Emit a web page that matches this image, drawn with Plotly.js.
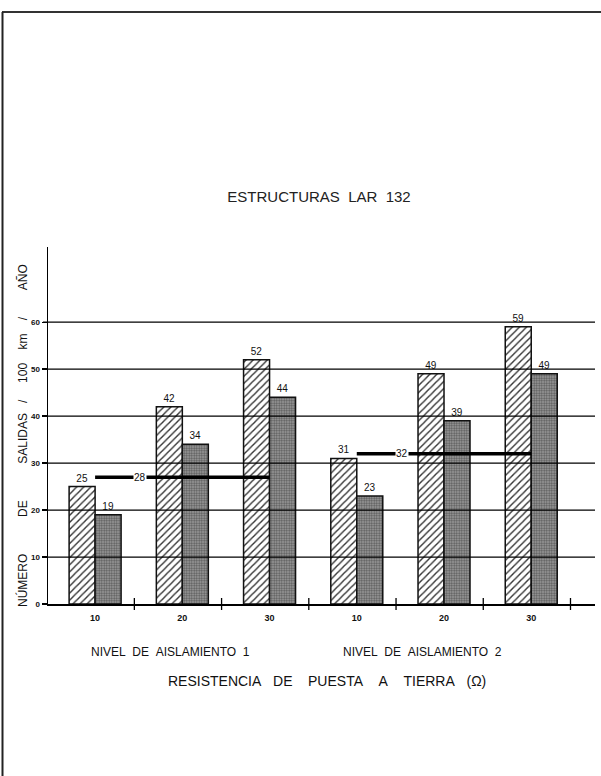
<!DOCTYPE html>
<html>
<head>
<meta charset="utf-8">
<script src="https://cdn.plot.ly/plotly-3.0.1.min.js"></script>
<style>html,body{margin:0;padding:0;background:#fff;}#chart{width:601px;height:776px;}</style>
</head>
<body>
<div id="chart"></div>
<script>
// ---- data ----
const resistances = ['10', '20', '30', '10', '20', '30'];
const hatchedValues = [25, 42, 52, 31, 49, 59];
const darkValues = [19, 34, 44, 23, 39, 49];
const levelNames = ['NIVEL DE AISLAMIENTO 1', 'NIVEL DE AISLAMIENTO 2'];
const avgFrom = [0, 3];
const avgTo = [2, 5];
const avgValues = [27, 32];
const avgLabels = ['28', '32'];
const yTickVals = [0, 10, 20, 30, 40, 50, 60];

const NB = n => '\u00a0'.repeat(n);
const xIdx = resistances.map((_, i) => i);
const font = 'Liberation Sans, Arial, sans-serif';

const traces = [
  {
    type: 'bar', x: xIdx, y: hatchedValues, name: 'a',
    marker: {color: '#ffffff', line: {color: '#111', width: 1.5},
             pattern: {shape: '/', fgcolor: '#333', bgcolor: '#ffffff', size: 5, solidity: 0.28}},
    text: hatchedValues.map(String), textposition: 'outside', cliponaxis: false,
    textfont: {family: font, size: 10, color: '#111'}
  },
  {
    type: 'bar', x: xIdx, y: darkValues, name: 'b',
    marker: {color: '#999999', line: {color: '#111', width: 1.5},
             pattern: {shape: '.', fgcolor: '#5a5a5a', bgcolor: '#a2a2a2', size: 2.5, solidity: 0.5}},
    text: darkValues.map(String), textposition: 'outside', cliponaxis: false,
    textfont: {family: font, size: 10, color: '#111'}
  }
];
avgValues.forEach((v, k) => {
  traces.push({type: 'scatter', mode: 'lines', x: [avgFrom[k], avgTo[k]], y: [v, v],
    line: {color: '#000', width: 3.5}, hoverinfo: 'skip', cliponaxis: false});
});

// plot geometry (px)
const L = 48, R = 6, T = 247, B = 172;
const W = 601 - L - R, H = 776 - T - B;
const px2paperX = p => (p - L) / W;
const py2paperY = p => (776 - B - p) / H;

const shapes = [];
// gridlines on top of the bars
yTickVals.slice(1).forEach(v => shapes.push({type: 'line', xref: 'paper', yref: 'y',
  x0: px2paperX(43), x1: 1, y0: v, y1: v, line: {color: '#000', width: 1.3}, layer: 'above'}));
// group separator ticks
xIdx.forEach(i => shapes.push({type: 'line', xref: 'x', yref: 'paper',
  x0: i + 0.45, x1: i + 0.45, y0: -6 / H, y1: 6 / H, line: {color: '#000', width: 1.3}, layer: 'above'}));
// outer frame
shapes.push({type: 'line', xref: 'paper', yref: 'paper', x0: px2paperX(2), x1: px2paperX(601),
  y0: py2paperY(12), y1: py2paperY(12), line: {color: '#333', width: 2}});
shapes.push({type: 'line', xref: 'paper', yref: 'paper', x0: px2paperX(2.5), x1: px2paperX(2.5),
  y0: py2paperY(12), y1: py2paperY(776), line: {color: '#222', width: 2}});

const annotations = [
  {xref: 'paper', yref: 'paper', x: px2paperX(170), y: py2paperY(652), text: levelNames[0].replace(/ /g, NB(2)),
   showarrow: false, font: {family: font, size: 12, color: '#111'}, xanchor: 'center', yanchor: 'middle'},
  {xref: 'paper', yref: 'paper', x: px2paperX(422), y: py2paperY(652), text: levelNames[1].replace(/ /g, NB(2)),
   showarrow: false, font: {family: font, size: 12, color: '#111'}, xanchor: 'center', yanchor: 'middle'},
  {xref: 'paper', yref: 'paper', x: px2paperX(327), y: py2paperY(681),
   text: 'RESISTENCIA' + NB(3) + 'DE' + NB(4) + 'PUESTA' + NB(4) + 'A' + NB(4) + 'TIERRA' + NB(3) + '(Ω)',
   showarrow: false, font: {family: font, size: 14, color: '#111'}, xanchor: 'center', yanchor: 'middle'},
  {xref: 'paper', yref: 'paper', x: px2paperX(22), y: py2paperY(436),
   text: 'NÚMERO' + NB(11) + 'DE' + NB(11) + 'SALIDAS' + NB(3) + '/' + NB(5) + '100' + NB(4) + 'km' + NB(4) + '/' + NB(8) + 'AÑO',
   textangle: -90, showarrow: false, font: {family: font, size: 12, color: '#111'}, xanchor: 'center', yanchor: 'middle'}
];
avgValues.forEach((v, k) => annotations.push({xref: 'x', yref: 'y', x: avgFrom[k] + 0.52, y: v,
  text: avgLabels[k], showarrow: false, bgcolor: '#fff', borderpad: 0,
  font: {family: font, size: 10, color: '#111'}, xanchor: 'center', yanchor: 'middle'}));

const layout = {
  width: 601, height: 776,
  margin: {l: L, r: R, t: T, b: B, pad: 0},
  paper_bgcolor: '#fff', plot_bgcolor: '#fff',
  showlegend: false,
  barmode: 'group', bargap: 0.404, bargroupgap: 0,
  title: {text: 'ESTRUCTURAS' + NB(2) + 'LAR' + NB(2) + '132', xref: 'container', yref: 'container',
          x: 319 / 601, y: 1 - 197 / 776, xanchor: 'center', yanchor: 'middle',
          font: {family: font, size: 15, color: '#222'}},
  xaxis: {range: [-0.54, 5.731], showgrid: false, zeroline: false, showline: true, linecolor: '#000', linewidth: 1.5,
          tickvals: xIdx, ticktext: resistances, ticks: '', ticklabelstandoff: 5,
          tickfont: {family: font, size: 9, color: '#111', weight: 'bold'}},
  yaxis: {range: [0, 76], showgrid: false, zeroline: false, showline: true, linecolor: '#000', linewidth: 1.5,
          tickvals: yTickVals, ticks: 'outside', ticklen: 5, tickwidth: 1.3, tickcolor: '#000',
          ticklabelstandoff: 0,
          tickfont: {family: font, size: 8, color: '#111', weight: 'bold'}},
  shapes: shapes,
  annotations: annotations
};

Plotly.newPlot('chart', traces, layout, {displayModeBar: false, staticPlot: true});
</script>
</body>
</html>
